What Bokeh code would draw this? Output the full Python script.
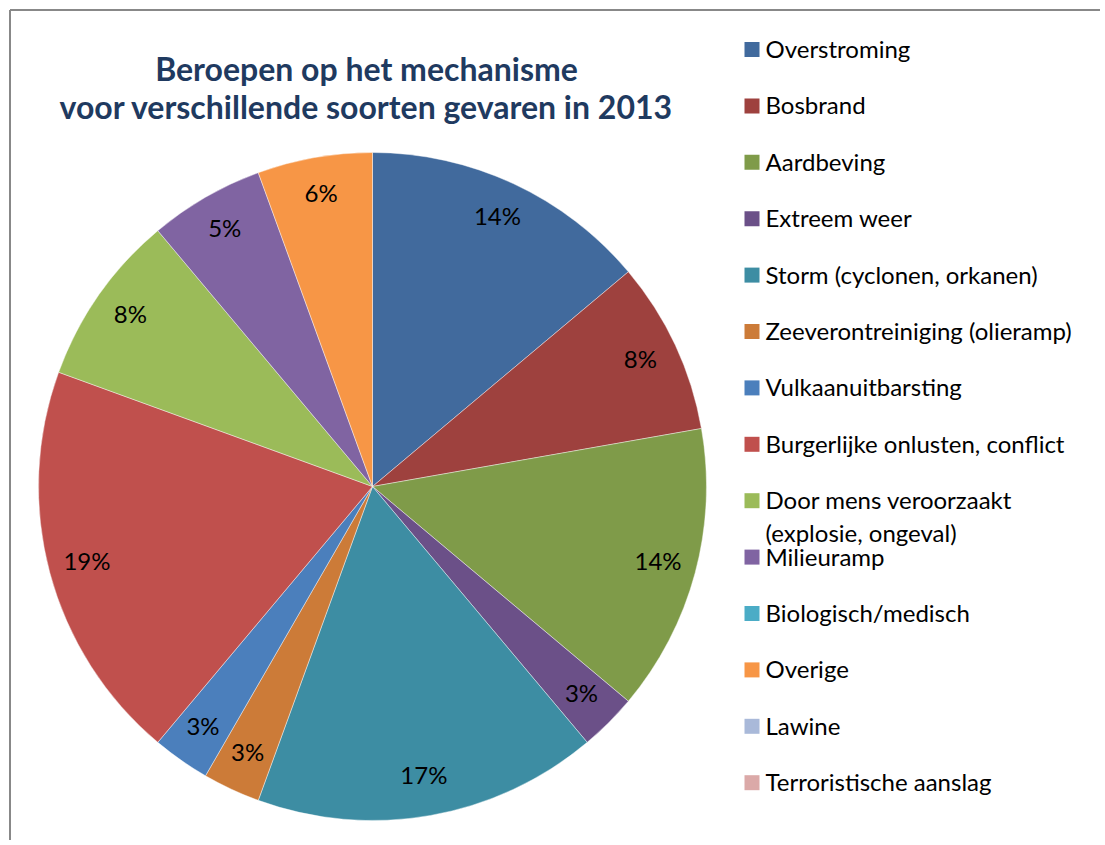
import math
from bokeh.plotting import figure
from bokeh.models import Range1d, ColumnDataSource
from bokeh.embed import file_html
from bokeh.resources import INLINE
from bokeh.core.properties import value

# ---------------- data ----------------
categories = [
    "Overstroming",
    "Bosbrand",
    "Aardbeving",
    "Extreem weer",
    "Storm (cyclonen, orkanen)",
    "Zeeverontreiniging (olieramp)",
    "Vulkaanuitbarsting",
    "Burgerlijke onlusten, conflict",
    "Door mens veroorzaakt\n(explosie, ongeval)",
    "Milieuramp",
    "Biologisch/medisch",
    "Overige",
    "Lawine",
    "Terroristische aanslag",
]
counts = [5, 3, 5, 1, 6, 1, 1, 7, 3, 2, 0, 2, 0, 0]
pct_labels = ["14%", "8%", "14%", "3%", "17%", "3%", "3%", "19%", "8%", "5%", "", "6%", "", ""]
colors = [
    "#416A9D", "#9E413E", "#7F9B49", "#6B5088", "#3D8DA3", "#CC7B38", "#4B7FBC",
    "#C0504D", "#9BBB59", "#8064A2", "#4BACC6", "#F79646", "#A9B9D9", "#DBA9A8",
]
title_lines = ["Beroepen op het mechanisme", "voor verschillende soorten gevaren in 2013"]

# ---------------- layout ----------------
W, H = 1100, 840
FONT = "Lato"


def Y(sy):
    return H - sy


p = figure(width=W, height=H, output_backend="svg", toolbar_location=None,
           x_range=Range1d(0, W), y_range=Range1d(0, H),
           x_axis_location=None, y_axis_location=None, min_border=0,
           outline_line_color=None, background_fill_color="white",
           border_fill_color="white")
p.grid.visible = False

# chart-area border (left and top, the rest is cropped)
p.line(x=[9.5, 9.5], y=[Y(9.5), Y(H + 5)], line_color="#888888", line_width=2)
p.line(x=[9.5, W + 5], y=[Y(9.5), Y(9.5)], line_color="#888888", line_width=2)

# ---------------- pie ----------------
cx, cy, R = 372, Y(486), 334
total = float(sum(counts))
starts, ends, cols, lx, ly, ltxt = [], [], [], [], [], []
cum = 0.0
for c, col, lab in zip(counts, colors, pct_labels):
    a0 = cum / total
    a1 = (cum + c) / total
    cum += c
    if c <= 0:
        continue
    starts.append(math.pi / 2 - 2 * math.pi * a1)
    ends.append(math.pi / 2 - 2 * math.pi * a0)
    cols.append(col)
    mid = math.pi / 2 - 2 * math.pi * (a0 + a1) / 2
    lx.append(cx + 0.885 * R * math.cos(mid))
    ly.append(cy + 0.885 * R * math.sin(mid) + 3)
    ltxt.append(lab)

src = ColumnDataSource(dict(start=starts, end=ends, color=cols))
p.wedge(x=cx, y=cy, radius=R, start_angle="start", end_angle="end",
        direction="anticlock", fill_color="color", line_color="white",
        line_width=0.6, line_alpha=0.7, source=src)

p.text(x=lx, y=ly, text=ltxt, text_font=value(FONT), text_font_size="24px",
       text_color="black", text_align="center", text_baseline="middle")

# ---------------- title ----------------
p.text(x=[366, 366], y=[Y(68), Y(106)], text=title_lines, text_font=value(FONT),
       text_font_style="bold", text_font_size="32px", text_color="#1F3A60",
       text_align="center", text_baseline="middle")

# ---------------- legend ----------------
row0, step = 49.0, 56.4
sq_x, sq_y, txt_x, txt_y, txt = [], [], [], [], []
for i, (cat, col) in enumerate(zip(categories, colors)):
    yc = row0 + i * step
    sq_x.append(751.5)
    sq_y.append(Y(yc))
    for j, line in enumerate(cat.split("\n")):
        txt_x.append(765)
        txt_y.append(Y(yc - 1 + j * 33))
        txt.append(line)
p.rect(x=sq_x, y=sq_y, width=15, height=15, fill_color=colors, line_color=None)
p.text(x=txt_x, y=txt_y, text=txt, text_font=value(FONT), text_font_size="24px",
       text_color="black", text_align="left", text_baseline="middle")

open("out.html", "w").write(file_html(p, INLINE))
